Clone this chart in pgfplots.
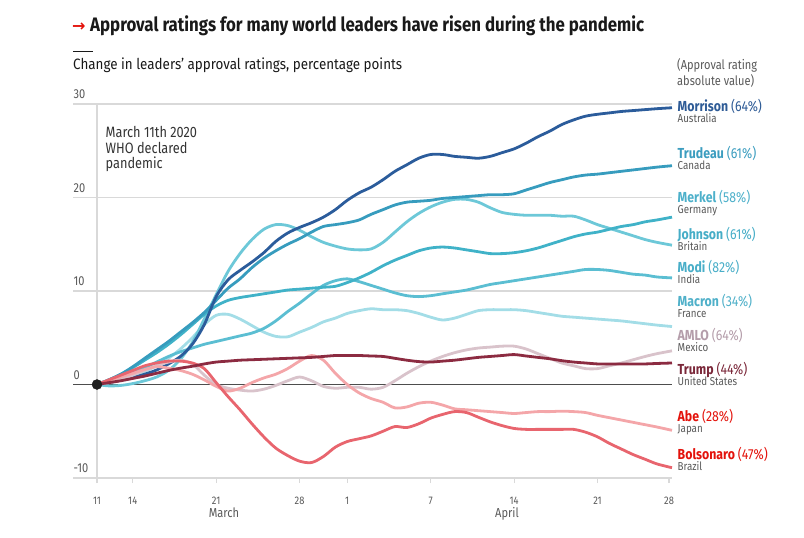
\documentclass[border=0pt]{standalone}
\usepackage{pgfplots}
\pgfplotsset{compat=1.18}
\usepackage{graphicx}
\usepackage{fontspec}
\setmainfont{Fira Sans}[FakeStretch=0.85]
\newfontfamily\arrowfont{DejaVu Sans}
\definecolor{gridc}{HTML}{D9D9D9}
\definecolor{zeroc}{HTML}{4D4D4D}
\definecolor{tickc}{HTML}{595959}
\definecolor{ctry}{HTML}{595959}
\definecolor{econred}{HTML}{E3120B}
\definecolor{morr}{HTML}{2B5C9B}
\definecolor{trud}{HTML}{379CBE}
\definecolor{merk}{HTML}{40B2C8}
\definecolor{john}{HTML}{6DC8D8}
\definecolor{modi}{HTML}{5BBED2}
\definecolor{macr}{HTML}{A3DDE7}
\definecolor{amlo}{HTML}{D9C3CB}
\definecolor{trum}{HTML}{8C2B41}
\definecolor{abe}{HTML}{F4A6A9}
\definecolor{bols}{HTML}{E8656E}
\definecolor{morrL}{HTML}{2E5B96}
\definecolor{trudL}{HTML}{3C9DBF}
\definecolor{merkL}{HTML}{4DB0CA}
\definecolor{johnL}{HTML}{46ADC7}
\definecolor{modiL}{HTML}{49AEC8}
\definecolor{macrL}{HTML}{4FB0C9}
\definecolor{amloL}{HTML}{B49DAA}
\definecolor{trumL}{HTML}{7A2739}
\tikzset{lab/.style={anchor=base west, inner sep=0pt}}
\newcommand{\nm}[2]{\fontsize{14.5}{15}\selectfont\bfseries #1 \mdseries(#2\%)}
\newcommand{\ct}[1]{\fontsize{11.5}{12}\selectfont #1}
\begin{document}
\begin{tikzpicture}
\path[use as bounding box] (0pt,0pt) rectangle (804pt,-538pt);
\begin{axis}[
  at={(73pt,-478pt)}, anchor=south west,
  scale only axis, width=599pt, height=374pt,
  xmin=-2.014, xmax=48.25, ymin=-10, ymax=30,
  axis line style={draw=none},
  ytick={-10,0,10,20,30}, yticklabels={},
  ymajorgrids, grid style={draw=gridc, line width=1.5pt},
  ytick style={draw=none},
  xtick={0,3,10,17,21,28,35,42,48},
  xticklabels={11,14,21,28,1,7,14,21,28},
  xtick pos=left, tick align=outside, major tick length=5pt,
  xtick style={draw=gridc, line width=1.2pt},
  xticklabel style={font=\fontsize{11}{11}\selectfont, text=tickc, anchor=base, yshift=-21pt},
  clip=false,
]
\draw[gridc, line width=1.5pt] (axis cs:0,-10) -- (axis cs:0,30);
\draw[zeroc, line width=1.4pt] (axis cs:-2.014,0) -- (axis cs:48.25,0);

\addplot[macr, line width=2.8pt, smooth] coordinates {(0,0) (1,0.2) (2,0.5) (3,0.9) (4,1.4) (5,2.0) (6,2.8) (7,3.8) (8,5.0) (9,6.4) (10,7.4) (11,7.5) (12,7.0) (13,6.3) (14,5.6) (15,5.15) (16,5.1) (17,5.6) (18,6.1) (19,6.7) (20,7.1) (21,7.6) (22,7.9) (23,8.1) (24,8.0) (25,8.0) (26,7.9) (27,7.6) (28,7.2) (29,6.9) (30,7.1) (31,7.5) (32,7.9) (33,8.0) (34,8.0) (35,8.0) (36,7.9) (37,7.7) (38,7.5) (39,7.3) (40,7.2) (41,7.1) (42,7.0) (43,6.9) (44,6.8) (45,6.65) (46,6.5) (47,6.35) (48.25,6.2)};
\addplot[modi, line width=2.8pt, smooth] coordinates {(0,0) (1,0.3) (2,0.8) (3,1.3) (4,1.8) (5,2.4) (6,3.0) (7,3.5) (8,3.9) (9,4.3) (10,4.6) (11,4.9) (12,5.2) (13,5.5) (14,6.0) (15,6.8) (16,7.8) (17,8.7) (18,9.7) (19,10.6) (20,11.1) (21,11.3) (22,11.0) (23,10.6) (24,10.2) (25,9.8) (26,9.5) (27,9.4) (28,9.5) (29,9.7) (30,9.9) (31,10.1) (32,10.4) (33,10.7) (34,10.9) (35,11.1) (36,11.3) (37,11.5) (38,11.7) (39,11.9) (40,12.1) (41,12.3) (42,12.3) (43,12.2) (44,12.0) (45,11.8) (46,11.7) (47,11.5) (48.25,11.4)};
\addplot[john, line width=2.8pt, smooth] coordinates {(0,0) (1,-0.15) (2,-0.1) (3,0.1) (4,0.4) (5,0.8) (6,1.5) (7,2.7) (8,4.5) (9,7.0) (10,9.6) (11,12.1) (12,14.0) (13,15.5) (14,16.6) (15,17.1) (16,17.0) (17,16.5) (18,15.8) (19,15.2) (20,14.8) (21,14.5) (22,14.4) (23,14.5) (24,15.2) (25,16.3) (26,17.4) (27,18.3) (28,19.0) (29,19.5) (30,19.8) (31,19.8) (32,19.5) (33,18.9) (34,18.4) (35,18.2) (36,18.1) (37,18.1) (38,18.1) (39,18.0) (40,18.0) (41,17.6) (42,17.1) (43,16.7) (44,16.3) (45,15.9) (46,15.5) (47,15.2) (48.25,14.9)};
\addplot[merk, line width=2.8pt, smooth] coordinates {(0,0) (1,0.5) (2,1.1) (3,1.8) (4,2.6) (5,3.4) (6,4.3) (7,5.3) (8,6.4) (9,7.5) (10,8.4) (11,9.0) (12,9.3) (13,9.5) (14,9.7) (15,9.9) (16,10.1) (17,10.2) (18,10.3) (19,10.4) (20,10.5) (21,10.9) (22,11.4) (23,12.0) (24,12.7) (25,13.3) (26,13.8) (27,14.3) (28,14.6) (29,14.7) (30,14.6) (31,14.4) (32,14.2) (33,14.0) (34,14.0) (35,14.1) (36,14.3) (37,14.6) (38,15.0) (39,15.4) (40,15.8) (41,16.1) (42,16.3) (43,16.6) (44,16.9) (45,17.1) (46,17.4) (47,17.6) (48.25,17.9)};
\addplot[trud, line width=2.8pt, smooth] coordinates {(0,0) (1,0.5) (2,1.1) (3,1.9) (4,2.8) (5,3.7) (6,4.6) (7,5.6) (8,6.6) (9,7.7) (10,9.0) (11,10.3) (12,11.3) (13,12.5) (14,13.5) (15,14.3) (16,15.0) (17,15.6) (18,16.3) (19,16.9) (20,17.1) (21,17.3) (22,17.6) (23,18.2) (24,18.7) (25,19.2) (26,19.5) (27,19.6) (28,19.7) (29,19.9) (30,20.0) (31,20.1) (32,20.2) (33,20.3) (34,20.3) (35,20.4) (36,20.8) (37,21.2) (38,21.6) (39,21.9) (40,22.2) (41,22.4) (42,22.5) (43,22.65) (44,22.8) (45,22.95) (46,23.1) (47,23.25) (48.25,23.4)};
\addplot[morr, line width=2.8pt, smooth] coordinates {(0,0) (1,0.2) (2,0.45) (3,0.75) (4,1.1) (5,1.55) (6,2.2) (7,3.0) (8,4.3) (9,6.4) (10,9.4) (11,11.2) (12,12.2) (13,13.1) (14,14.1) (15,15.3) (16,16.2) (17,16.8) (18,17.3) (19,17.9) (20,18.7) (21,19.7) (22,20.5) (23,21.1) (24,21.9) (25,22.8) (26,23.5) (27,24.2) (28,24.6) (29,24.6) (30,24.4) (31,24.3) (32,24.2) (33,24.4) (34,24.8) (35,25.2) (36,25.8) (37,26.5) (38,27.1) (39,27.8) (40,28.3) (41,28.7) (42,28.9) (43,29.05) (44,29.2) (45,29.3) (46,29.4) (47,29.5) (48.25,29.6)};
\addplot[amlo, line width=2.8pt, smooth] coordinates {(0,0) (1,0.2) (2,0.5) (3,1.0) (4,1.5) (5,2.0) (6,2.4) (7,2.6) (8,2.2) (9,1.0) (10,0.0) (11,-0.4) (12,-0.6) (13,-0.7) (14,-0.5) (15,-0.1) (16,0.4) (17,0.8) (18,0.4) (19,-0.2) (20,-0.4) (21,-0.3) (22,-0.3) (23,-0.5) (24,-0.3) (25,0.4) (26,1.2) (27,1.9) (28,2.5) (29,3.0) (30,3.4) (31,3.7) (32,3.9) (33,4.0) (34,4.1) (35,4.1) (36,3.8) (37,3.3) (38,2.8) (39,2.3) (40,2.0) (41,1.7) (42,1.7) (43,2.0) (44,2.3) (45,2.65) (46,3.0) (47,3.3) (48.25,3.6)};
\addplot[abe, line width=2.8pt, smooth] coordinates {(0,0) (1,0.4) (2,0.8) (3,1.2) (4,1.6) (5,1.9) (6,1.75) (7,1.5) (8,1.1) (9,0.5) (10,-0.2) (11,-0.7) (12,-0.4) (13,0.2) (14,0.7) (15,1.1) (16,1.7) (17,2.5) (18,3.1) (19,2.6) (20,1.2) (21,0.0) (22,-0.9) (23,-1.5) (24,-1.9) (25,-2.5) (26,-2.4) (27,-2.0) (28,-1.9) (29,-2.2) (30,-2.6) (31,-2.7) (32,-2.8) (33,-2.9) (34,-3.0) (35,-3.1) (36,-3.0) (37,-2.9) (38,-2.9) (39,-2.85) (40,-2.9) (41,-3.0) (42,-3.3) (43,-3.55) (44,-3.8) (45,-4.05) (46,-4.3) (47,-4.55) (48.25,-4.9)};
\addplot[bols, line width=2.8pt, smooth] coordinates {(0,0) (1,0.5) (2,1.0) (3,1.5) (4,2.0) (5,2.3) (6,2.5) (7,2.5) (8,2.3) (9,1.7) (10,0.2) (11,-1.3) (12,-2.7) (13,-4.2) (14,-5.6) (15,-6.8) (16,-7.6) (17,-8.2) (18,-8.35) (19,-7.7) (20,-6.7) (21,-6.1) (22,-5.8) (23,-5.5) (24,-5.0) (25,-4.5) (26,-4.6) (27,-4.2) (28,-3.6) (29,-3.2) (30,-2.9) (31,-3.0) (32,-3.5) (33,-4.0) (34,-4.4) (35,-4.7) (36,-4.8) (37,-4.8) (38,-4.8) (39,-4.8) (40,-4.8) (41,-5.1) (42,-5.6) (43,-6.3) (44,-6.9) (45,-7.5) (46,-8.0) (47,-8.5) (48.25,-8.9)};
\addplot[trum, line width=2.8pt, smooth] coordinates {(0,0) (1,0.2) (2,0.4) (3,0.65) (4,0.9) (5,1.2) (6,1.5) (7,1.75) (8,1.95) (9,2.2) (10,2.4) (11,2.5) (12,2.6) (13,2.65) (14,2.7) (15,2.75) (16,2.8) (17,2.85) (18,2.9) (19,3.0) (20,3.1) (21,3.1) (22,3.1) (23,3.05) (24,3.0) (25,2.8) (26,2.6) (27,2.45) (28,2.4) (29,2.5) (30,2.6) (31,2.75) (32,2.9) (33,3.0) (34,3.1) (35,3.2) (36,3.05) (37,2.9) (38,2.75) (39,2.55) (40,2.4) (41,2.3) (42,2.2) (43,2.2) (44,2.2) (45,2.2) (46,2.2) (47,2.25) (48.25,2.3)};
\addplot[only marks, mark=*, mark size=5pt, mark options={fill=black!88, draw=black!88}] coordinates {(0,0)};
\end{axis}

% title
\node[lab, text=econred] at (72pt,-31.5pt) {\fontsize{16}{16}\selectfont\arrowfont\bfseries →};
\node[lab, text=black!90] at (90pt,-31.5pt) {\resizebox{554pt}{\height}{\fontsize{19.5}{20}\selectfont\bfseries Approval ratings for many world leaders have risen during the pandemic}};
\draw[black!90, line width=1.2pt] (73pt,-51.5pt) -- (93pt,-51.5pt);
\node[lab, text=black!90] at (73pt,-69pt) {\resizebox{329pt}{\height}{\fontsize{15}{16}\selectfont Change in leaders’ approval ratings, percentage points}};
\node[lab, text=tickc] at (677pt,-69pt) {\fontsize{13}{14}\selectfont (Approval rating};
\node[lab, text=tickc] at (677pt,-85pt) {\fontsize{13}{14}\selectfont absolute value)};

% y labels
\foreach \v/\yy in {30/98.5, 20/192, 10/285.5, 0/379, -10/472.5}
  \node[lab, text=tickc] at (73.5pt,-\yy pt) {\fontsize{13}{13}\selectfont \v};

% months
\node[anchor=base, inner sep=0pt, text=tickc] at (224pt,-517pt) {\fontsize{13}{13}\selectfont March};
\node[anchor=base, inner sep=0pt, text=tickc] at (507pt,-517pt) {\fontsize{13}{13}\selectfont April};

% annotation
\node[lab, text=black!80] at (105.5pt,-137pt) {\fontsize{15}{16}\selectfont March 11th 2020};
\node[lab, text=black!80] at (105.5pt,-153pt) {\fontsize{15}{16}\selectfont WHO declared};
\node[lab, text=black!80] at (105.5pt,-168.5pt) {\fontsize{15}{16}\selectfont pandemic};

% right labels
\node[lab, text=morrL] at (677.5pt,-111.5pt) {\nm{Morrison}{64}};
\node[lab, text=ctry] at (677.5pt,-122.5pt) {\ct{Australia}};
\node[lab, text=trudL] at (677.5pt,-158pt) {\nm{Trudeau}{61}};
\node[lab, text=ctry] at (677.5pt,-169pt) {\ct{Canada}};
\node[lab, text=merkL] at (677.5pt,-202pt) {\nm{Merkel}{58}};
\node[lab, text=ctry] at (677.5pt,-213pt) {\ct{Germany}};
\node[lab, text=johnL] at (677.5pt,-239pt) {\nm{Johnson}{61}};
\node[lab, text=ctry] at (677.5pt,-250pt) {\ct{Britain}};
\node[lab, text=modiL] at (677.5pt,-272.5pt) {\nm{Modi}{82}};
\node[lab, text=ctry] at (677.5pt,-283.5pt) {\ct{India}};
\node[lab, text=macrL] at (677.5pt,-306.5pt) {\nm{Macron}{34}};
\node[lab, text=ctry] at (677.5pt,-317.5pt) {\ct{France}};
\node[lab, text=amloL] at (677.5pt,-340pt) {\nm{AMLO}{64}};
\node[lab, text=ctry] at (677.5pt,-351pt) {\ct{Mexico}};
\node[lab, text=trumL] at (677.5pt,-374.5pt) {\nm{Trump}{44}};
\node[lab, text=ctry] at (677.5pt,-385.5pt) {\ct{United States}};
\node[lab, text=econred] at (677.5pt,-421pt) {\nm{Abe}{28}};
\node[lab, text=ctry] at (677.5pt,-432pt) {\ct{Japan}};
\node[lab, text=econred] at (677.5pt,-459pt) {\nm{Bolsonaro}{47}};
\node[lab, text=ctry] at (677.5pt,-470pt) {\ct{Brazil}};
\end{tikzpicture}
\end{document}
